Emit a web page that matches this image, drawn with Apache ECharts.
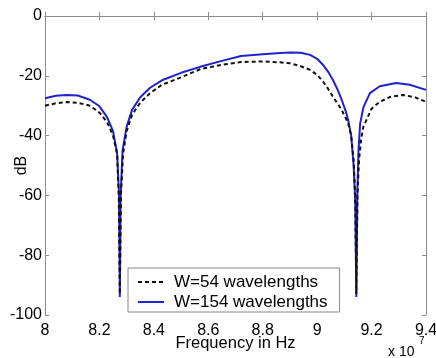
<!DOCTYPE html>
<html><head><meta charset="utf-8">
<script src="https://cdn.jsdelivr.net/npm/echarts@6/dist/echarts.min.js"></script>
<style>html,body{margin:0;padding:0;background:#fff}#c{width:436px;height:358px}</style>
</head><body><div id="c"></div>
<script>
var xTicks = [8, 8.2, 8.4, 8.6, 8.8, 9, 9.2, 9.4];
var yTicks = [0, -20, -40, -60, -80, -100];
var seriesNames = ['W=54 wavelengths', 'W=154 wavelengths'];

var freq54 = [8.00,8.04,8.08,8.12,8.165,8.20,8.228,8.25,8.265,8.271,8.275,8.279,8.287,8.30,8.32,8.35,8.386,8.43,8.50,8.57,8.65,8.72,8.80,8.864,8.90,8.94,8.974,9.00,9.022,9.04,9.058,9.075,9.09,9.114,9.125,9.134,9.140,9.144,9.148,9.154,9.162,9.17,9.20,9.23,9.27,9.316,9.36,9.40];
var db54   = [-30,-29.2,-28.8,-29,-30,-32.3,-35.5,-40,-46,-60,-93,-60,-46,-38.5,-33,-29,-25.8,-23,-20.5,-17.8,-16.3,-15.4,-15.2,-15.5,-15.8,-16.8,-18,-19.7,-22,-24.3,-27,-29.3,-31.4,-35.8,-40,-48,-60,-93,-60,-48,-41,-37,-31,-28.7,-27,-26.4,-27.2,-28.7];

var freq154 = [8.00,8.04,8.08,8.12,8.165,8.20,8.228,8.25,8.265,8.272,8.275,8.278,8.285,8.30,8.32,8.35,8.386,8.43,8.50,8.57,8.65,8.72,8.80,8.864,8.90,8.94,8.974,9.00,9.022,9.04,9.058,9.075,9.09,9.105,9.114,9.125,9.134,9.140,9.144,9.148,9.152,9.158,9.17,9.194,9.23,9.29,9.34,9.40];
var db154   = [-27.5,-26.7,-26.4,-26.6,-28,-30.2,-33.8,-38.5,-46,-60,-94,-60,-45,-37,-31.4,-27.2,-24,-21.5,-19,-17,-15,-13.4,-12.8,-12.4,-12.2,-12.3,-13,-14.3,-16.4,-18.6,-21.4,-24.6,-28,-31.8,-34.8,-40,-50,-62,-94,-58,-45,-36,-30.5,-25.8,-23.5,-22.4,-23,-24.7];

function pairs(xs, ys){ return xs.map(function(x,i){ return [x, ys[i]]; }); }

var FONT = '"Liberation Sans", Arial, sans-serif';
var axisGrey = '#8c8c8c';
var chart = echarts.init(document.getElementById('c'), null, {renderer:'canvas'});
var baseX = {type:'value', min:xTicks[0], max:xTicks[xTicks.length-1], interval:0.2,
  splitLine:{show:false}, axisLine:{lineStyle:{color:axisGrey, width:1}},
  axisTick:{inside:true, length:4, lineStyle:{color:axisGrey}}};
var baseY = {type:'value', min:yTicks[yTicks.length-1], max:yTicks[0], interval:20,
  splitLine:{show:false}, axisLine:{lineStyle:{color:axisGrey, width:1}},
  axisTick:{inside:true, length:4, lineStyle:{color:axisGrey}}};

chart.setOption({
  animation:false,
  backgroundColor:'#fff',
  textStyle:{fontFamily:FONT},
  grid:{left:45, top:16, right:10, bottom:43, containLabel:false, outerBoundsMode:'none'},
  xAxis:[
    Object.assign({}, baseX, {position:'bottom',
      name:'Frequency in Hz', nameLocation:'middle', nameGap:20, nameMoveOverlap:false,
      nameTextStyle:{fontSize:16.5, color:'#000', fontFamily:FONT},
      axisLabel:{fontSize:16, color:'#000', margin:8, fontFamily:FONT,
        formatter:function(v){ return String(Math.round(v*10)/10); }}}),
    Object.assign({}, baseX, {position:'top', axisLabel:{show:false}})
  ],
  yAxis:[
    Object.assign({}, baseY, {position:'left',
      name:'dB', nameLocation:'middle', nameGap:15, nameRotate:90, nameMoveOverlap:false,
      nameTextStyle:{fontSize:16, color:'#000', fontFamily:FONT},
      axisLabel:{fontSize:16, color:'#000', margin:3, fontFamily:FONT}}),
    Object.assign({}, baseY, {position:'right', axisLabel:{show:false}})
  ],
  legend:{
    left:128, top:268, orient:'vertical',
    backgroundColor:'#fff', borderColor:'#888', borderWidth:1,
    padding:[5,12,1,9], itemGap:2, itemWidth:26, itemHeight:14,
    itemStyle:{opacity:0},
    textStyle:{fontSize:17, color:'#000', fontFamily:FONT, padding:[0,0,0,5], lineHeight:18},
    data:seriesNames
  },
  series:[
    {name:seriesNames[0], type:'line', symbol:'none', data:pairs(freq54, db54),
      lineStyle:{color:'#111', width:2, type:[4,3]}, itemStyle:{color:'#111'}, z:3},
    {name:seriesNames[1], type:'line', symbol:'none', data:pairs(freq154, db154),
      lineStyle:{color:'#2222cc', width:2}, itemStyle:{color:'#2222cc'}, z:2}
  ],
  graphic:[
    {type:'text', left:388, top:345, style:{text:'x 10', fontSize:14, fill:'#000', fontFamily:FONT}},
    {type:'text', left:419, top:336, style:{text:'7', fontSize:10, fill:'#000', fontFamily:FONT}}
  ]
});
</script></body></html>
